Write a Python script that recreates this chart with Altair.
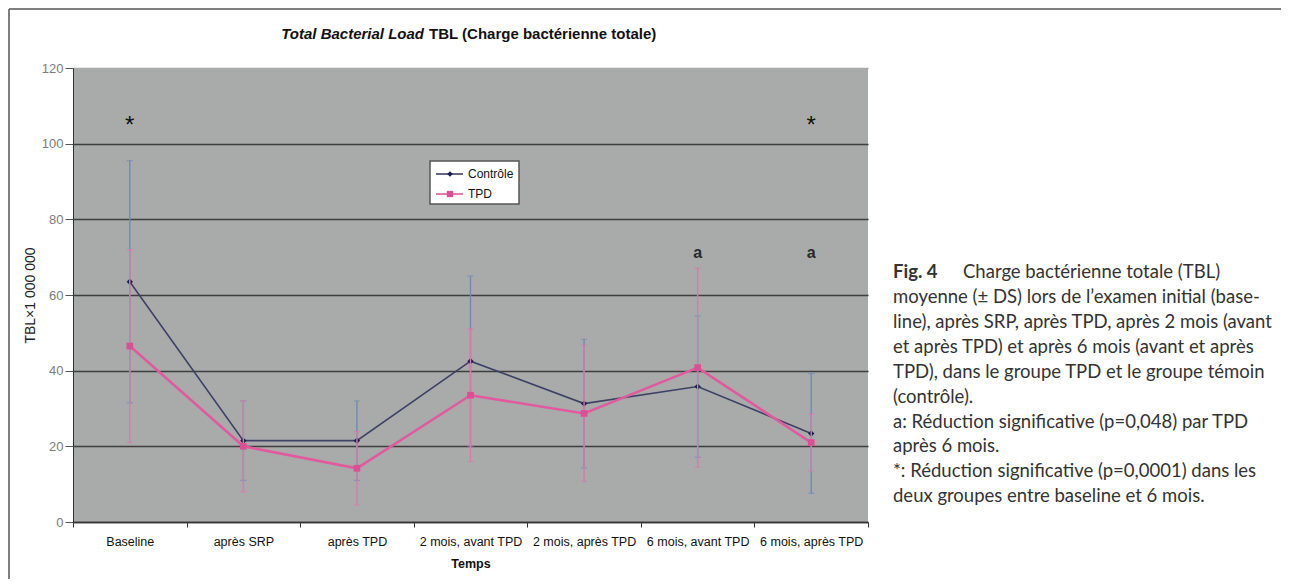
import altair as alt
import pandas as pd

categories = ["Baseline", "après SRP", "après TPD", "2 mois, avant TPD",
              "2 mois, après TPD", "6 mois, avant TPD", "6 mois, après TPD"]
series_names = ["Contrôle", "TPD"]
controle_mean = [63.5, 21.5, 21.5, 42.5, 31.3, 35.8, 23.4]
controle_sd = [32.0, 10.5, 10.5, 22.5, 17.0, 18.7, 15.8]
tpd_mean = [46.5, 20.0, 14.2, 33.5, 28.7, 40.8, 21.0]
tpd_sd = [25.5, 12.0, 9.7, 17.5, 18.0, 26.3, 7.5]
y_ticks = [0, 20, 40, 60, 80, 100, 120]

star_cats = ["Baseline", "6 mois, après TPD"]
star_vals = [106, 106]
a_cats = ["6 mois, avant TPD", "6 mois, après TPD"]
a_vals = [71, 71]

title_italic = "Total Bacterial Load"
title_bold = "TBL (Charge bactérienne totale)"
caption_head = "Fig. 4"
caption_first = "Charge bactérienne totale (TBL)"
caption_lines = [
    "moyenne (± DS) lors de l’examen initial (base-",
    "line), après SRP, après TPD, après 2 mois (avant",
    "et après TPD) et après 6 mois (avant et après",
    "TPD), dans le groupe TPD et le groupe témoin",
    "(contrôle).",
    "a: Réduction significative (p=0,048) par TPD",
    "après 6 mois.",
    "*: Réduction significative (p=0,0001) dans les",
    "deux groupes entre baseline et 6 mois.",
]

W, H = 795, 454
BG = "#a9abaa"
FONT = "Liberation Sans"


def series_df(means, sds):
    return pd.DataFrame({
        "cat": categories,
        "mean": means,
        "lo": [m - s for m, s in zip(means, sds)],
        "hi": [m + s for m, s in zip(means, sds)],
    })


df_c = series_df(controle_mean, controle_sd)
df_t = series_df(tpd_mean, tpd_sd)
df_star = pd.DataFrame({"cat": star_cats, "v": star_vals})
df_a = pd.DataFrame({"cat": a_cats, "v": a_vals})

x_enc = alt.X(
    "cat:N", sort=categories, bandPosition=0.5,
    scale=alt.Scale(type="band", domain=categories, paddingInner=0, paddingOuter=0),
    axis=alt.Axis(title="Temps", labelAngle=0, tickBand="extent", grid=False,
                  domain=True, domainColor="#333333", domainWidth=1.5,
                  ticks=True, tickSize=5, tickColor="#333333",
                  labelFont=FONT, labelFontSize=12.5, labelColor="#111111", labelPadding=8,
                  titleFont=FONT, titleFontSize=12.5, titleFontWeight="bold",
                  titleColor="#111111", titlePadding=10),
)
y_scale = alt.Scale(domain=[0, 120], nice=False)
y_axis = alt.Axis(values=y_ticks, title="TBL×1 000 000", grid=True,
                  gridColor=alt.condition("datum.value >= 120", alt.value(BG), alt.value("#3e3e3e")),
                  gridWidth=1.6, domain=True, domainColor="#333333", domainWidth=1,
                  ticks=True, tickSize=8, tickColor="#555555",
                  labelFont=FONT, labelFontSize=13, labelColor="#7c7c7c", labelPadding=2,
                  titleFont=FONT, titleFontSize=14, titleFontWeight="normal",
                  titleColor="#222222", titlePadding=4)


def layers_for(df, line_color, line_w, pt_color, shape, size, err_color):
    base = alt.Chart(df)
    err = base.mark_rule(color=err_color, strokeWidth=1.4).encode(
        x=x_enc, y=alt.Y("lo:Q", scale=y_scale, axis=y_axis), y2="hi:Q")
    cap_lo = base.mark_tick(color=err_color, size=6, thickness=1.2).encode(
        x=x_enc, y=alt.Y("lo:Q", scale=y_scale, axis=y_axis))
    cap_hi = base.mark_tick(color=err_color, size=6, thickness=1.2).encode(
        x=x_enc, y=alt.Y("hi:Q", scale=y_scale, axis=y_axis))
    line = base.mark_line(color=line_color, strokeWidth=line_w).encode(
        x=x_enc, y=alt.Y("mean:Q", scale=y_scale, axis=y_axis))
    pts = base.mark_point(color=pt_color, filled=True, opacity=1, shape=shape, size=size).encode(
        x=x_enc, y=alt.Y("mean:Q", scale=y_scale, axis=y_axis))
    return [err, cap_lo, cap_hi, line, pts]


layers = []
layers += layers_for(df_c, "#3d4264", 1.6, "#1b1f50", "diamond", 40, "#7089b8")
layers += layers_for(df_t, "#e25a9e", 2.6, "#dc4f94", "square", 45, "#d87aaa")

stars = alt.Chart(df_star).mark_text(text="*", fontSize=24, font=FONT, color="#111111",
                                     baseline="middle", dy=5).encode(
    x=x_enc, y=alt.Y("v:Q", scale=y_scale, axis=y_axis))
a_marks = alt.Chart(df_a).mark_text(text="a", fontSize=16, fontWeight="bold", font=FONT,
                                    color="#2a2a2a", baseline="middle").encode(
    x=x_enc, y=alt.Y("v:Q", scale=y_scale, axis=y_axis))
layers += [stars, a_marks]

# legend box (drawn inside the plot)
leg_box = alt.Chart().mark_rect(fill="white", stroke="#555555", strokeWidth=1.5).encode(
    x=alt.value(357), x2=alt.value(446), y=alt.value(93), y2=alt.value(136))
leg_items = []
for i, (name, lc, pc, shp, sz) in enumerate([
        (series_names[0], "#3d4264", "#1b1f50", "diamond", 30),
        (series_names[1], "#e25a9e", "#dc4f94", "square", 40)]):
    yy = 106 + 20 * i
    leg_items.append(alt.Chart().mark_rule(color=lc, strokeWidth=1.6).encode(
        x=alt.value(363), x2=alt.value(390), y=alt.value(yy)))
    leg_items.append(alt.Chart().mark_point(color=pc, filled=True, opacity=1, shape=shp, size=sz).encode(
        x=alt.value(377), y=alt.value(yy)))
    leg_items.append(alt.Chart().mark_text(text=name, font=FONT, fontSize=12, color="#111111",
                                           align="left", baseline="middle").encode(
        x=alt.value(395), y=alt.value(yy)))
layers += [leg_box] + leg_items

# chart title (mixed italic / bold)
t1 = alt.Chart().mark_text(text=title_italic, font=FONT, fontSize=15, fontStyle="italic",
                           fontWeight="bold", color="#111111", align="right",
                           baseline="middle").encode(x=alt.value(351), y=alt.value(-34))
t2 = alt.Chart().mark_text(text=title_bold, font=FONT, fontSize=15, fontWeight="bold",
                           color="#111111", align="left",
                           baseline="middle").encode(x=alt.value(356), y=alt.value(-34))
layers += [t1, t2]

# page frame
frame_left = alt.Chart().mark_rule(color="#555555", strokeWidth=1.5).encode(
    x=alt.value(-64), y=alt.value(-59), y2=alt.value(511))
frame_top = alt.Chart().mark_rule(color="#555555", strokeWidth=1.5).encode(
    x=alt.value(-64), x2=alt.value(1208), y=alt.value(-59))
layers += [frame_left, frame_top]

# caption
CAP_FONT = "Lato"
CAP_SIZE = 18.5
cap1 = alt.Chart().mark_text(text=caption_head, font=CAP_FONT, fontSize=CAP_SIZE, fontWeight="bold",
                             color="#333333", align="left", baseline="alphabetic").encode(
    x=alt.value(820), y=alt.value(210))
cap2 = alt.Chart().mark_text(text=caption_first, font=CAP_FONT, fontSize=CAP_SIZE,
                             color="#333333", align="left", baseline="alphabetic").encode(
    x=alt.value(890), y=alt.value(210))
cap3 = alt.Chart().mark_text(text=caption_lines, font=CAP_FONT, fontSize=CAP_SIZE, lineHeight=24.9,
                             color="#333333", align="left", baseline="alphabetic").encode(
    x=alt.value(820), y=alt.value(235))
layers += [cap1, cap2, cap3]

chart = alt.layer(*layers).properties(
    width=W, height=H, padding=0, background="white"
).configure_view(fill=BG, strokeWidth=0)

chart.save("out.html", embed_options={"renderer": "svg", "actions": False})
